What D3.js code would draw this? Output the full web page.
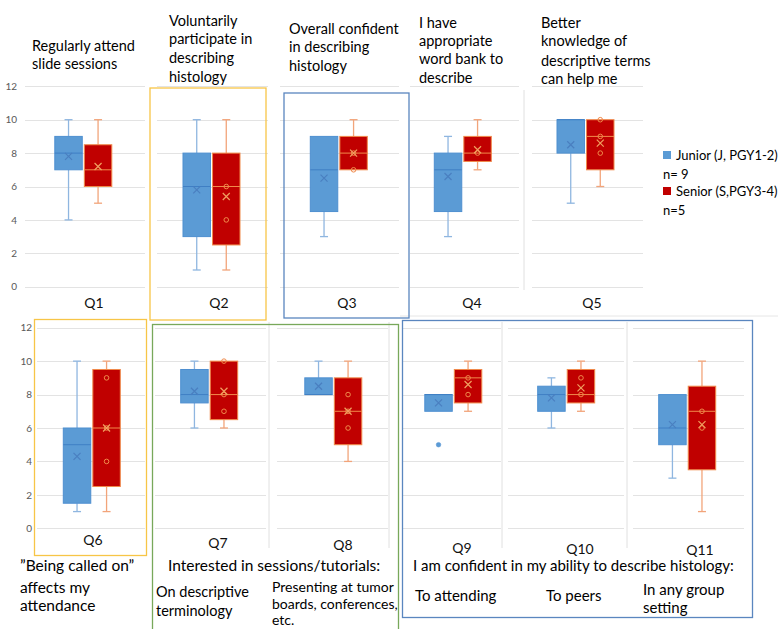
<!DOCTYPE html>
<html>
<head>
<meta charset="utf-8">
<script src="https://cdn.jsdelivr.net/npm/d3@7/dist/d3.min.js"></script>
<style>
  html, body { margin: 0; padding: 0; background: #fff; }
  svg { display: block; font-family: Lato, "Open Sans", sans-serif; }
</style>
</head>
<body>
<svg id="chart" width="778" height="629"></svg>
<script>
// ---------------- DATA ----------------
const questions = ["Q1","Q2","Q3","Q4","Q5","Q6","Q7","Q8","Q9","Q10","Q11"];
const groups = ["Junior", "Senior"];
const legendLabels = ["Junior (J, PGY1-2)", "Senior (S,PGY3-4)"];
const legendCounts = ["n= 9", "n=5"];
const yTicks = [0, 2, 4, 6, 8, 10, 12];

const juniorMin      = [4, 1, 3,   3,   5,  1,   6,   8, 7, 6,   3];
const juniorQ1       = [7, 3, 4.5, 4.5, 8,  1.5, 7.5, 8, 7, 7,   5];
const juniorMedian   = [8, 6, 7,   7,   10, 5,   8,   8, 8, 8,   6];
const juniorQ3       = [9, 8, 9,   8,   10, 6,   9.5, 9, 8, 8.5, 8];
const juniorMax      = [10,10,9,   9,   10, 10,  10,  10,8, 9,   8];
const juniorMean     = [7.8,5.8,6.5,6.6,8.5,4.3, 8.2, 8.5,7.5,7.8,6.2];
const juniorOutliers = [[],[],[],[],[],[],[],[],[5],[],[]];

const seniorMin      = [5,   1,   7, 7,   6,  1,   6,   4, 7,   7,   1];
const seniorQ1       = [6,   2.5, 7, 7.5, 7,  2.5, 6.5, 5, 7.5, 7.5, 3.5];
const seniorMedian   = [7,   6,   8, 8,   9,  6,   8,   7, 9,   8,   7];
const seniorQ3       = [8.5, 8,   9, 9,   10, 9.5, 10,  9, 9.5, 9.5, 8.5];
const seniorMax      = [10,  10,  10,10,  10, 10,  10,  10,10,  10,  10];
const seniorMean     = [7.2, 5.4, 8, 8.2, 8.6,6,   8.2, 7, 8.6, 8.4, 6.2];
const seniorPoints   = [[],[4,6],[7,8],[8],[8,9,10],[4,6,9],[7,8,10],[6,7,8],[8,9],[8,9],[6,7]];

const topTitles = [
  ["Regularly attend","slide sessions"],
  ["Voluntarily","participate in","describing","histology"],
  ["Overall confident","in describing","histology"],
  ["I have","appropriate","word bank to","describe"],
  ["Better","knowledge of","descriptive terms","can help me"]
];
const q6Caption = ["\u201DBeing called on\u201D","affects my","attendance"];
const interestCaption = "Interested in sessions/tutorials:";
const q7Caption = ["On descriptive","terminology"];
const q8Caption = ["Presenting at tumor","boards, conferences,","etc."];
const confCaption = "I am confident in my ability to describe histology:";
const q9Caption = ["To attending"];
const q10Caption = ["To peers"];
const q11Caption = ["In any group","setting"];

// ---------------- LAYOUT ----------------
const svg = d3.select("#chart");
const rows = [
  d3.scaleLinear().domain([0, 12]).range([286.7, 86.3]),
  d3.scaleLinear().domain([0, 12]).range([528.3, 327.7])
];
const panels = [
  {row:0, c:83.3,  g:[25,145],  lx:94,  ly:302},
  {row:0, c:211.5, g:[157,268], lx:219, ly:302},
  {row:0, c:338.8, g:[280,399], lx:347, ly:302},
  {row:0, c:462.8, g:[410,519], lx:472, ly:302},
  {row:0, c:585.5, g:[532,643], lx:592, ly:302},
  {row:1, c:91.8,  g:[37,145],  lx:93,  ly:539},
  {row:1, c:209.2, g:[155,266], lx:218, ly:542},
  {row:1, c:333.3, g:[277,388], lx:343, ly:544},
  {row:1, c:453.3, g:[402,501], lx:462, ly:547},
  {row:1, c:566.2, g:[508,624], lx:580, ly:548},
  {row:1, c:687.2, g:[633,744], lx:700, ly:549}
];

const colors = {
  Junior: {fill:"#5b9bd5", stroke:"#4e8fd0", whisker:"#8fb6e0", mean:"#4a7fc0", median:"#3f7fc4"},
  Senior: {fill:"#c00000", stroke:"#f08a4b", whisker:"#f2a47a", mean:"#f0a060", median:"#f08a4b"}
};
const gridColor = "#e3e3e3";

const deco = svg.append("g");
[[524,90,290],[269,322,548],[389,322,548],[502,322,548],[627,322,548]].forEach(d => {
  deco.append("line").attr("x1",d[0]).attr("x2",d[0]).attr("y1",d[1]).attr("y2",d[2])
    .attr("stroke","#e0e0e0").attr("stroke-width",1);
});
deco.append("line").attr("x1",400).attr("x2",778).attr("y1",316).attr("y2",316)
  .attr("stroke","#e6e6e6");

// Gridlines
panels.forEach(p => {
  const y = rows[p.row];
  svg.append("g").selectAll("line").data(yTicks).join("line")
    .attr("x1", p.g[0]).attr("x2", p.g[1])
    .attr("y1", d => Math.round(y(d)) + 0.5).attr("y2", d => Math.round(y(d)) + 0.5)
    .attr("stroke", gridColor).attr("stroke-width", 1);
});

// Y axes
const axisX = [17, 32];
rows.forEach((y, i) => {
  const g = svg.append("g").attr("transform", `translate(${axisX[i]},0)`)
    .call(d3.axisLeft(y).tickValues(yTicks).tickSize(0).tickPadding(0));
  g.select(".domain").remove();
  g.selectAll("text").attr("fill","#595959").style("font-size","10px")
    .style("font-family","Lato, sans-serif");
});

// Highlight frames
const frames = [
  {x:150, y:88,  w:116, h:232, c:"#f7c547"},
  {x:284, y:93,  w:125, h:225, c:"#5a86bf"},
  {x:34.5,y:319.5,w:112,h:236, c:"#f7c547"},
  {x:152.5,y:324.5,w:246,h:310,c:"#78a85a"},
  {x:402.5,y:320.5,w:350,h:297,c:"#5a86bf"}
];
frames.forEach(f => svg.append("rect").attr("x",f.x).attr("y",f.y).attr("width",f.w).attr("height",f.h)
  .attr("fill","none").attr("stroke",f.c).attr("stroke-width",1.3));

// Box plots
const stats = {
  Junior: {min:juniorMin, q1:juniorQ1, med:juniorMedian, q3:juniorQ3, max:juniorMax, mean:juniorMean, pts:questions.map(()=>[]), out:juniorOutliers},
  Senior: {min:seniorMin, q1:seniorQ1, med:seniorMedian, q3:seniorQ3, max:seniorMax, mean:seniorMean, pts:seniorPoints, out:questions.map(()=>[])}
};

questions.forEach((q, i) => {
  const p = panels[i];
  const y = rows[p.row];
  const x = d3.scaleBand().domain(groups).range([p.c - 28.5, p.c + 28.5]).paddingInner(0.07);
  const bw = x.bandwidth();
  groups.forEach(gname => {
    const s = stats[gname], col = colors[gname];
    const cx = x(gname) + bw / 2;
    const g = svg.append("g");
    const cap = 4;
    if (s.max[i] > s.q3[i]) {
      g.append("line").attr("x1",cx).attr("x2",cx).attr("y1",y(s.q3[i])).attr("y2",y(s.max[i])).attr("stroke",col.whisker).attr("stroke-width",1.3);
      g.append("line").attr("x1",cx-cap).attr("x2",cx+cap).attr("y1",y(s.max[i])).attr("y2",y(s.max[i])).attr("stroke",col.whisker).attr("stroke-width",1.3);
    }
    if (s.min[i] < s.q1[i]) {
      g.append("line").attr("x1",cx).attr("x2",cx).attr("y1",y(s.q1[i])).attr("y2",y(s.min[i])).attr("stroke",col.whisker).attr("stroke-width",1.3);
      g.append("line").attr("x1",cx-cap).attr("x2",cx+cap).attr("y1",y(s.min[i])).attr("y2",y(s.min[i])).attr("stroke",col.whisker).attr("stroke-width",1.3);
    }
    g.append("rect").attr("x", x(gname)).attr("y", y(s.q3[i]))
      .attr("width", bw).attr("height", y(s.q1[i]) - y(s.q3[i]))
      .attr("fill", col.fill).attr("stroke", col.stroke).attr("stroke-width", 1);
    g.append("line").attr("x1", x(gname)).attr("x2", x(gname) + bw)
      .attr("y1", y(s.med[i])).attr("y2", y(s.med[i]))
      .attr("stroke", col.median).attr("stroke-width", 1);
    s.pts[i].forEach(v => g.append("circle").attr("cx",cx).attr("cy",y(v)).attr("r",2.3)
      .attr("fill","none").attr("stroke",col.stroke).attr("stroke-width",1));
    s.out[i].forEach(v => g.append("circle").attr("cx",cx).attr("cy",y(v)).attr("r",2.3)
      .attr("fill",col.fill).attr("stroke",col.stroke).attr("stroke-width",0.5));
    const my = y(s.mean[i]), m = 3.5;
    g.append("path").attr("d", `M${cx-m},${my-m}L${cx+m},${my+m}M${cx-m},${my+m}L${cx+m},${my-m}`)
      .attr("stroke", col.mean).attr("stroke-width", 1.2).attr("fill","none");
  });
  svg.append("text").attr("x", p.lx).attr("y", p.ly).attr("text-anchor","middle")
    .attr("dominant-baseline","central").style("font-size","14px").attr("fill","#111").text(q);
});

// Titles & captions
function lines(arr, x, ys, size, anchor) {
  arr.forEach((t, k) => svg.append("text").attr("x", x).attr("y", ys[k])
    .attr("dominant-baseline","central").attr("text-anchor", anchor || "start")
    .style("font-size", size + "px").attr("fill","#000").text(t));
}
lines(topTitles[0], 32, [45,63], 14.5);
lines(topTitles[1], 169, [20,38,57,76], 14.5);
lines(topTitles[2], 289, [28,46,65], 14.5);
lines(topTitles[3], 419, [22,40,58,77], 14.5);
lines(topTitles[4], 541, [22,40,60,78], 14.5);

lines(q6Caption, 20, [565,587,605], 15.5);
lines([interestCaption], 168, [565], 15.5);
lines(q7Caption, 156, [591,610], 14.5);
lines(q8Caption, 272, [586,603,619], 14);
lines([confCaption], 413, [565], 15);
lines(q9Caption, 415, [595], 15);
lines(q10Caption, 546, [595], 15);
lines(q11Caption, 643, [589,607], 15);

// Legend
const lg = svg.append("g");
const legendY = [155, 191];
groups.forEach((gname, k) => {
  lg.append("rect").attr("x", 663).attr("y", legendY[k] - 4).attr("width", 8).attr("height", 8)
    .attr("fill", colors[gname].fill);
  lg.append("text").attr("x", 676).attr("y", legendY[k]).attr("dominant-baseline","central")
    .style("font-size","13px").text(legendLabels[k]);
  lg.append("text").attr("x", 663).attr("y", legendY[k] + 19).attr("dominant-baseline","central")
    .style("font-size","13px").text(legendCounts[k]);
});
</script>
</body>
</html>
